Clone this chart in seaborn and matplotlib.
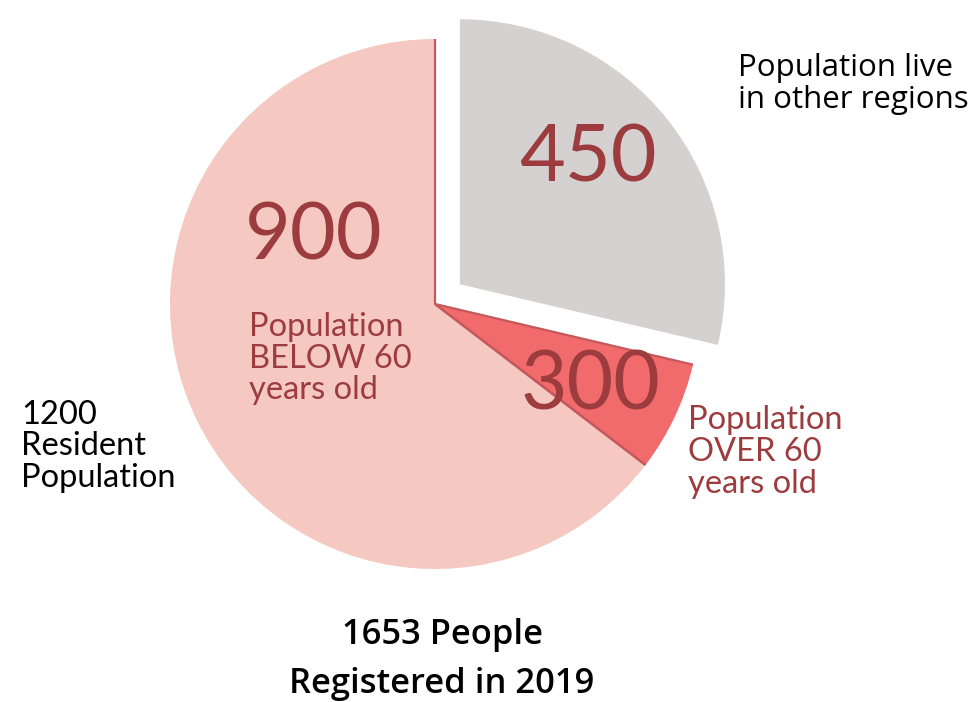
import numpy as np
import matplotlib
matplotlib.use("Agg")
import matplotlib.pyplot as plt
import seaborn as sns

# ---- data ----
categories = ["Population live in other regions", "Population OVER 60 years old", "Population BELOW 60 years old"]
slice_values = [474, 111, 1068]          # slice sizes as drawn (angles)
value_labels = ["450", "300", "900"]     # numbers printed on the slices
resident_label = "1200\nResident\nPopulation"
title_label = "1653 People\nRegistered in 2019"
other_label = "Population live\nin other regions"
over_label = "Population\nOVER 60\nyears old"
below_label = "Population\nBELOW 60\nyears old"

colors = ["#D5D1D1", "#F26B6C", "#F5C8C1"]
dark_red = "#9D3C3F"
edge_red = "#C4585A"

sns.set_theme(style="white")
plt.rcParams["font.family"] = ["Open Sans", "DejaVu Sans"]

W, H = 973, 702
fig = plt.figure(figsize=(W / 100, H / 100), dpi=100)
ax = fig.add_axes([0, 0, 1, 1])

def Y(y):
    return H - y

cx, cy, R = 435, 304, 265
wedges, _ = ax.pie(slice_values, colors=colors, startangle=90, counterclock=False,
                   explode=[0.12 * R, 0, 0], radius=R, center=(cx, Y(cy)),
                   wedgeprops=dict(linewidth=0))
ax.set_xlim(0, W)
ax.set_ylim(0, H)
ax.set_aspect("equal")
ax.axis("off")

# radial edge lines of the resident slices
for w in (wedges[1], wedges[2]):
    for a in (w.theta1, w.theta2):
        t = np.deg2rad(a)
        ax.plot([w.center[0], w.center[0] + w.r * np.cos(t)],
                [w.center[1], w.center[1] + w.r * np.sin(t)],
                color=edge_red, lw=1.6, zorder=3, solid_capstyle="butt")

lato = ["Lato", "DejaVu Sans"]
# big numbers
ax.text(588, Y(160), value_labels[0], fontsize=57, color=dark_red, ha="center", va="center", family=lato)
ax.text(590, Y(386), value_labels[1], fontsize=58, color=dark_red, ha="center", va="center", family=lato, zorder=4)
ax.text(314, Y(237), value_labels[2], fontsize=57, color=dark_red, ha="center", va="center", family=lato)

# red descriptive labels
ax.text(249, Y(312), below_label, fontsize=23.5, color=dark_red, ha="left", va="top",
        linespacing=1.07, family=lato)
ax.text(688, Y(405), over_label, fontsize=23.5, color=dark_red, ha="left", va="top",
        linespacing=1.09, family=lato)

# black labels
ax.text(21, Y(400), resident_label, fontsize=23.5, color="black", ha="left", va="top",
        linespacing=1.06, family=lato)
ax.text(738, Y(53), other_label, fontsize=22.5, color="black", ha="left", va="top",
        linespacing=1.1)
ax.text(442, Y(618), title_label, fontsize=24.8, color="black", ha="center", va="top",
        linespacing=1.56, fontweight="semibold")

fig.savefig("out.png", dpi=100, facecolor="white")
